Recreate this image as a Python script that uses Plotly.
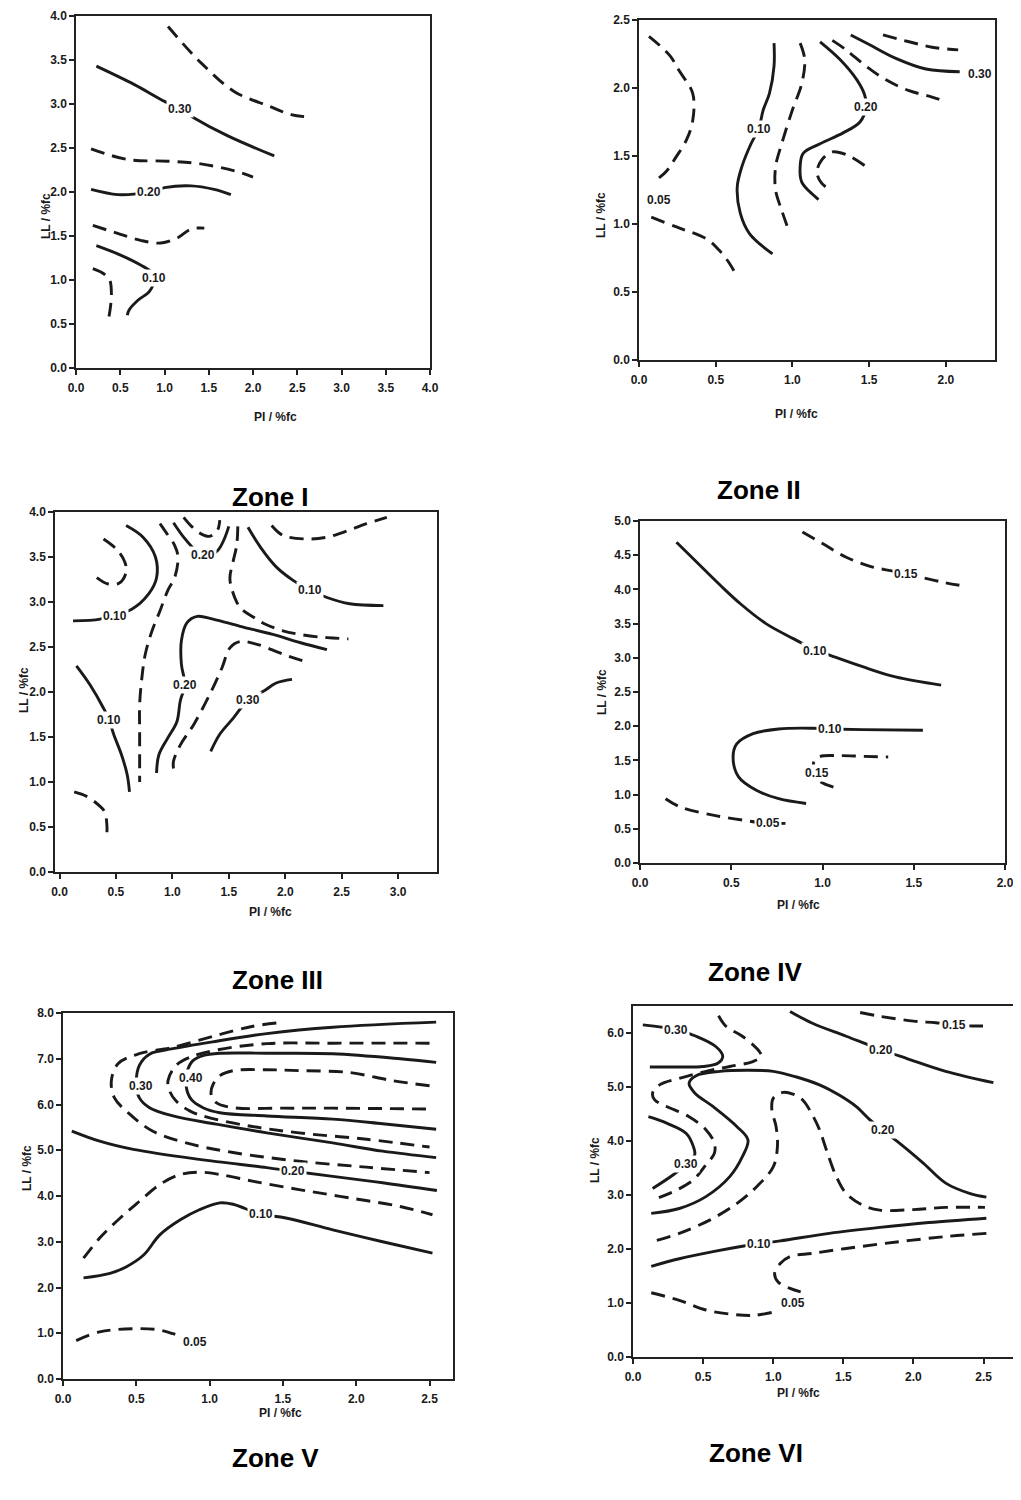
import plotly.graph_objects as go

W, H = 1021, 1500

# ---------------- DATA (PI / %fc , LL / %fc) ----------------
# Zone I
z1_a_pi = [1.04, 1.41, 1.79, 2.17, 2.43, 2.66]
z1_a_ll = [3.88, 3.47, 3.14, 2.98, 2.88, 2.85]
z1_b_pi = [0.23, 0.66, 1.00, 1.17, 1.32, 1.71, 2.24]
z1_b_ll = [3.43, 3.22, 3.03, 2.95, 2.85, 2.64, 2.41]
z1_c_pi = [0.17, 0.58, 1.04, 1.41, 1.79, 2.00]
z1_c_ll = [2.49, 2.37, 2.35, 2.32, 2.24, 2.17]
z1_d_pi = [0.17, 0.47, 0.70, 0.83, 1.00, 1.30, 1.56, 1.75]
z1_d_ll = [2.03, 1.97, 1.98, 2.00, 2.05, 2.07, 2.03, 1.97]
z1_e_pi = [0.19, 0.47, 0.73, 0.96, 1.15, 1.30, 1.45]
z1_e_ll = [1.62, 1.53, 1.45, 1.42, 1.48, 1.58, 1.59]
z1_f_pi = [0.23, 0.51, 0.73, 0.85, 0.88, 0.83, 0.70, 0.60, 0.58]
z1_f_ll = [1.39, 1.28, 1.17, 1.09, 1.00, 0.87, 0.77, 0.66, 0.60]
z1_g_pi = [0.19, 0.30, 0.38, 0.40, 0.39, 0.36]
z1_g_ll = [1.13, 1.08, 1.00, 0.85, 0.70, 0.51]
z1_lab_txt = ["0.30", "0.20", "0.10"]
z1_lab_pi = [1.17, 0.83, 0.88]
z1_lab_ll = [2.94, 2.00, 1.02]

# Zone II
z2_a_pi = [0.065, 0.20, 0.26, 0.35, 0.35, 0.31, 0.24, 0.18, 0.11]
z2_a_ll = [2.38, 2.24, 2.13, 1.96, 1.76, 1.62, 1.49, 1.39, 1.32]
z2_b_pi = [0.08, 0.24, 0.44, 0.52, 0.59, 0.64]
z2_b_ll = [1.05, 0.98, 0.89, 0.81, 0.71, 0.61]
z2_c_pi = [0.88, 0.88, 0.85, 0.81, 0.78, 0.73, 0.67, 0.64, 0.66, 0.72, 0.87]
z2_c_ll = [2.33, 2.16, 1.96, 1.84, 1.70, 1.59, 1.42, 1.27, 1.08, 0.93, 0.78]
z2_d_pi = [1.05, 1.08, 1.06, 1.00, 0.93, 0.89, 0.89, 0.93, 0.98]
z2_d_ll = [2.33, 2.21, 2.03, 1.84, 1.59, 1.42, 1.25, 1.10, 0.94]
z2_e_pi = [1.18, 1.31, 1.42, 1.47, 1.48, 1.44, 1.33, 1.18, 1.07, 1.05, 1.06, 1.11, 1.17]
z2_e_ll = [2.34, 2.21, 2.06, 1.95, 1.86, 1.75, 1.67, 1.59, 1.52, 1.42, 1.31, 1.24, 1.18]
z2_f_pi = [1.47, 1.35, 1.26, 1.19, 1.16, 1.19, 1.25]
z2_f_ll = [1.43, 1.51, 1.53, 1.47, 1.38, 1.30, 1.25]
z2_g_pi = [1.26, 1.35, 1.48, 1.61, 1.76, 1.89, 2.00]
z2_g_ll = [2.35, 2.28, 2.16, 2.06, 1.98, 1.94, 1.90]
z2_h_pi = [1.38, 1.50, 1.67, 1.87, 2.09]
z2_h_ll = [2.39, 2.32, 2.22, 2.14, 2.12]
z2_i_pi = [1.59, 1.76, 1.91, 2.08]
z2_i_ll = [2.39, 2.34, 2.30, 2.28]
z2_lab_txt = ["0.05", "0.10", "0.20", "0.30"]
z2_lab_pi = [0.13, 0.78, 1.48, 2.22]
z2_lab_ll = [1.18, 1.70, 1.86, 2.10]

# Zone III
z3_a_pi = [0.39, 0.51, 0.58, 0.59, 0.53, 0.43, 0.32]
z3_a_ll = [3.70, 3.58, 3.44, 3.33, 3.21, 3.20, 3.28]
z3_b_pi = [0.59, 0.74, 0.85, 0.86, 0.79, 0.64, 0.49, 0.36, 0.12]
z3_b_ll = [3.85, 3.72, 3.50, 3.27, 3.09, 2.92, 2.86, 2.81, 2.79]
z3_c_pi = [0.15, 0.27, 0.39, 0.44, 0.48, 0.55, 0.60, 0.62]
z3_c_ll = [2.29, 2.08, 1.82, 1.69, 1.53, 1.30, 1.08, 0.89]
z3_d_pi = [0.13, 0.24, 0.35, 0.40, 0.42, 0.42]
z3_d_ll = [0.89, 0.84, 0.74, 0.67, 0.52, 0.43]
z3_e_pi = [0.89, 0.94, 1.02, 1.05, 1.02, 0.96, 0.89, 0.82, 0.76, 0.73, 0.71, 0.71, 0.71, 0.71]
z3_e_ll = [3.87, 3.78, 3.63, 3.50, 3.27, 3.13, 2.90, 2.68, 2.42, 2.16, 1.86, 1.56, 1.27, 1.00]
z3_f_pi = [1.01, 1.10, 1.21, 1.30, 1.40, 1.46, 1.50]
z3_f_ll = [3.88, 3.72, 3.57, 3.51, 3.57, 3.70, 3.84]
z3_g_pi = [1.10, 1.17, 1.25, 1.33, 1.40, 1.42]
z3_g_ll = [3.94, 3.84, 3.76, 3.73, 3.80, 3.91]
z3_h_pi = [1.58, 1.57, 1.54, 1.51, 1.53, 1.60, 1.72, 1.83, 1.98, 2.13, 2.31, 2.42, 2.56]
z3_h_ll = [3.84, 3.63, 3.46, 3.27, 3.13, 2.94, 2.83, 2.75, 2.68, 2.64, 2.61, 2.60, 2.59]
z3_i_pi = [1.67, 1.78, 1.92, 2.07, 2.22, 2.37, 2.57, 2.87]
z3_i_ll = [3.83, 3.61, 3.39, 3.24, 3.13, 3.05, 2.98, 2.96]
z3_j_pi = [1.88, 1.98, 2.19, 2.37, 2.57, 2.72, 2.90]
z3_j_ll = [3.85, 3.74, 3.70, 3.72, 3.80, 3.87, 3.94]
z3_k_pi = [0.86, 0.88, 0.96, 1.04, 1.07, 1.11, 1.08, 1.08, 1.13, 1.22, 1.36, 1.60, 1.89, 2.13, 2.37]
z3_k_ll = [1.10, 1.30, 1.49, 1.67, 1.90, 2.08, 2.31, 2.57, 2.77, 2.84, 2.81, 2.73, 2.64, 2.55, 2.47]
z3_l_pi = [1.01, 1.01, 1.07, 1.19, 1.33, 1.44, 1.51, 1.60, 1.75, 1.98, 2.20]
z3_l_ll = [1.15, 1.23, 1.41, 1.64, 1.97, 2.27, 2.49, 2.56, 2.53, 2.42, 2.33]
z3_m_pi = [1.34, 1.42, 1.54, 1.67, 1.81, 1.92, 2.06]
z3_m_ll = [1.34, 1.53, 1.71, 1.91, 2.01, 2.10, 2.14]
z3_lab_txt = ["0.10", "0.10", "0.20", "0.10", "0.20", "0.30"]
z3_lab_pi = [0.49, 0.44, 1.27, 2.22, 1.11, 1.67]
z3_lab_ll = [2.85, 1.69, 3.52, 3.13, 2.08, 1.91]

# Zone IV
z4_a_pi = [0.20, 0.31, 0.44, 0.55, 0.69, 0.84, 0.89, 0.96, 1.07, 1.22, 1.40, 1.65]
z4_a_ll = [4.69, 4.40, 4.06, 3.79, 3.50, 3.28, 3.21, 3.12, 3.01, 2.87, 2.72, 2.60]
z4_b_pi = [0.89, 1.00, 1.13, 1.27, 1.38, 1.46, 1.55, 1.65, 1.75]
z4_b_ll = [4.84, 4.67, 4.47, 4.33, 4.27, 4.22, 4.17, 4.11, 4.06]
z4_c_pi = [0.91, 0.76, 0.64, 0.54, 0.51, 0.53, 0.62, 0.76, 0.95, 1.04, 1.22, 1.55]
z4_c_ll = [0.87, 0.94, 1.06, 1.26, 1.55, 1.74, 1.89, 1.96, 1.97, 1.96, 1.95, 1.94]
z4_d_pi = [1.06, 0.98, 0.97, 0.95, 0.98, 1.09, 1.22, 1.36]
z4_d_ll = [1.11, 1.21, 1.32, 1.45, 1.55, 1.57, 1.56, 1.55]
z4_e_pi = [0.14, 0.22, 0.40, 0.58, 0.70, 0.81]
z4_e_ll = [0.94, 0.82, 0.70, 0.62, 0.58, 0.58]
z4_lab_txt = ["0.10", "0.15", "0.10", "0.15", "0.05"]
z4_lab_pi = [0.96, 1.46, 1.04, 0.97, 0.70]
z4_lab_ll = [3.10, 4.22, 1.96, 1.32, 0.58]

# Zone V
z5_a_pi = [1.455, 1.295, 1.045, 0.75, 0.52, 0.375, 0.33, 0.35, 0.455, 0.61, 0.84, 1.16, 1.61, 2.07, 2.50]
z5_a_ll = [7.78, 7.71, 7.51, 7.25, 7.11, 6.89, 6.52, 6.15, 5.79, 5.42, 5.16, 4.95, 4.76, 4.63, 4.51]
z5_b_pi = [2.545, 1.84, 1.39, 1.02, 0.75, 0.59, 0.52, 0.50, 0.52, 0.59, 0.75, 1.045, 1.39, 1.84, 2.18, 2.545]
z5_b_ll = [7.80, 7.69, 7.55, 7.37, 7.22, 7.10, 6.85, 6.45, 6.15, 5.93, 5.75, 5.57, 5.38, 5.16, 4.98, 4.84]
z5_c_pi = [2.50, 1.84, 1.39, 1.045, 0.864, 0.77, 0.716, 0.727, 0.77, 0.864, 0.977, 1.27, 1.61, 2.07, 2.50]
z5_c_ll = [7.34, 7.34, 7.33, 7.19, 7.03, 6.85, 6.52, 6.30, 6.08, 5.86, 5.73, 5.53, 5.38, 5.24, 5.07]
z5_d_pi = [2.545, 2.30, 1.84, 1.39, 1.07, 0.955, 0.886, 0.85, 0.84, 0.875, 0.955, 1.07, 1.39, 1.84, 2.18, 2.545]
z5_d_ll = [6.92, 7.00, 7.11, 7.12, 7.12, 7.07, 6.96, 6.75, 6.40, 6.11, 5.93, 5.82, 5.75, 5.68, 5.58, 5.46]
z5_e_pi = [2.50, 2.25, 1.95, 1.61, 1.39, 1.16, 1.07, 1.025, 1.01, 1.045, 1.16, 1.50, 1.84, 2.50]
z5_e_ll = [6.41, 6.52, 6.70, 6.74, 6.76, 6.74, 6.63, 6.45, 6.23, 6.04, 5.93, 5.92, 5.92, 5.90]
z5_f_pi = [0.06, 0.25, 0.48, 0.93, 1.39, 1.57, 1.84, 2.18, 2.55]
z5_f_ll = [5.42, 5.20, 5.02, 4.80, 4.62, 4.54, 4.43, 4.29, 4.12]
z5_g_pi = [0.14, 0.25, 0.39, 0.52, 0.66, 0.80, 0.93, 1.07, 1.30, 1.61, 1.95, 2.30, 2.52]
z5_g_ll = [2.64, 3.08, 3.52, 3.88, 4.25, 4.47, 4.52, 4.47, 4.32, 4.14, 3.96, 3.77, 3.59]
z5_h_pi = [0.14, 0.32, 0.43, 0.55, 0.66, 0.80, 0.93, 1.07, 1.16, 1.35, 1.52, 1.84, 2.18, 2.52]
z5_h_ll = [2.21, 2.31, 2.45, 2.71, 3.15, 3.48, 3.70, 3.85, 3.82, 3.60, 3.52, 3.26, 3.00, 2.75]
z5_i_pi = [0.09, 0.25, 0.48, 0.64, 0.75, 0.81]
z5_i_ll = [0.84, 1.03, 1.10, 1.08, 0.99, 0.92]
z5_lab_txt = ["0.30", "0.40", "0.20", "0.10", "0.05"]
z5_lab_pi = [0.53, 0.875, 1.57, 1.35, 0.90]
z5_lab_ll = [6.41, 6.59, 4.54, 3.60, 0.81]

# Zone VI
z6_a_pi = [0.07, 0.31, 0.45, 0.59, 0.64, 0.605, 0.50, 0.31, 0.12]
z6_a_ll = [6.15, 6.06, 5.94, 5.75, 5.57, 5.44, 5.38, 5.37, 5.37]
z6_b_pi = [0.61, 0.665, 0.78, 0.90, 0.915, 0.855, 0.69, 0.52, 0.33, 0.19, 0.14, 0.155, 0.24, 0.40, 0.52, 0.58, 0.58, 0.52, 0.43, 0.31, 0.155]
z6_b_ll = [6.32, 6.12, 5.94, 5.66, 5.57, 5.47, 5.38, 5.29, 5.16, 5.04, 4.89, 4.76, 4.64, 4.45, 4.21, 3.96, 3.77, 3.56, 3.28, 3.09, 2.92]
z6_c_pi = [1.12, 1.28, 1.52, 1.77, 1.95, 2.23, 2.57]
z6_c_ll = [6.40, 6.18, 5.94, 5.69, 5.53, 5.29, 5.08]
z6_d_pi = [0.13, 0.33, 0.52, 0.69, 0.78, 0.82, 0.74, 0.57, 0.44, 0.40, 0.45, 0.62, 0.81, 1.00, 1.16, 1.33, 1.47, 1.59, 1.69, 1.78, 1.90, 2.07, 2.23, 2.40, 2.52]
z6_d_ll = [2.66, 2.75, 2.97, 3.34, 3.71, 4.02, 4.27, 4.64, 4.89, 5.07, 5.21, 5.29, 5.31, 5.29, 5.19, 5.04, 4.85, 4.64, 4.39, 4.20, 3.96, 3.59, 3.22, 3.03, 2.96]
z6_e_pi = [0.11, 0.24, 0.38, 0.43, 0.44, 0.38, 0.285, 0.14]
z6_e_ll = [4.45, 4.33, 4.14, 3.90, 3.74, 3.57, 3.37, 3.12]
z6_f_pi = [0.17, 0.33, 0.55, 0.74, 0.88, 1.00, 1.03, 1.02, 0.99, 1.00, 1.07, 1.14, 1.21, 1.28, 1.33, 1.38, 1.45, 1.52, 1.64, 1.76, 2.00, 2.23, 2.51]
z6_f_ll = [2.16, 2.29, 2.54, 2.84, 3.15, 3.52, 3.90, 4.27, 4.58, 4.79, 4.90, 4.87, 4.76, 4.48, 4.21, 3.83, 3.34, 3.03, 2.81, 2.72, 2.73, 2.77, 2.77]
z6_g_pi = [0.13, 0.33, 0.57, 0.78, 0.90, 1.05, 1.40, 1.76, 2.11, 2.52]
z6_g_ll = [1.68, 1.82, 1.95, 2.05, 2.10, 2.15, 2.29, 2.40, 2.49, 2.57]
z6_h_pi = [2.52, 2.23, 1.88, 1.52, 1.28, 1.12, 1.05, 1.01, 1.035, 1.12, 1.235]
z6_h_ll = [2.29, 2.23, 2.13, 2.01, 1.92, 1.86, 1.73, 1.55, 1.39, 1.27, 1.18]
z6_i_pi = [0.13, 0.33, 0.52, 0.71, 0.86, 1.00]
z6_i_ll = [1.19, 1.05, 0.87, 0.79, 0.77, 0.83]
z6_j_pi = [1.62, 1.76, 2.00, 2.16, 2.29, 2.42, 2.52]
z6_j_ll = [6.38, 6.31, 6.22, 6.19, 6.15, 6.13, 6.13]
z6_lab_txt = ["0.30", "0.20", "0.20", "0.30", "0.10", "0.05", "0.15"]
z6_lab_pi = [0.31, 1.77, 1.78, 0.38, 0.90, 1.14, 2.29]
z6_lab_ll = [6.06, 5.69, 4.20, 3.57, 2.10, 1.00, 6.15]

# Tick values
z1_xticks = [0.0, 0.5, 1.0, 1.5, 2.0, 2.5, 3.0, 3.5, 4.0]
z1_yticks = [0.0, 0.5, 1.0, 1.5, 2.0, 2.5, 3.0, 3.5, 4.0]
z2_xticks = [0.0, 0.5, 1.0, 1.5, 2.0]
z2_yticks = [0.0, 0.5, 1.0, 1.5, 2.0, 2.5]
z3_xticks = [0.0, 0.5, 1.0, 1.5, 2.0, 2.5, 3.0]
z3_yticks = [0.0, 0.5, 1.0, 1.5, 2.0, 2.5, 3.0, 3.5, 4.0]
z4_xticks = [0.0, 0.5, 1.0, 1.5, 2.0]
z4_yticks = [0.0, 0.5, 1.0, 1.5, 2.0, 2.5, 3.0, 3.5, 4.0, 4.5, 5.0]
z5_xticks = [0.0, 0.5, 1.0, 1.5, 2.0, 2.5]
z5_yticks = [0.0, 1.0, 2.0, 3.0, 4.0, 5.0, 6.0, 7.0, 8.0]
z6_xticks = [0.0, 0.5, 1.0, 1.5, 2.0, 2.5]
z6_yticks = [0.0, 1.0, 2.0, 3.0, 4.0, 5.0, 6.0]

zone_titles = ["Zone I", "Zone II", "Zone III", "Zone IV", "Zone V", "Zone VI"]
x_title = "PI / %fc"
y_title = "LL / %fc"

# ---------------- STRUCTURE ----------------
S, D = "solid", "dash"
zones = [
    dict(curves=[(z1_a_pi, z1_a_ll, D), (z1_b_pi, z1_b_ll, S), (z1_c_pi, z1_c_ll, D),
                 (z1_d_pi, z1_d_ll, S), (z1_e_pi, z1_e_ll, D), (z1_f_pi, z1_f_ll, S),
                 (z1_g_pi, z1_g_ll, D)],
         labels=(z1_lab_txt, z1_lab_pi, z1_lab_ll), xt=z1_xticks, yt=z1_yticks,
         px=(76, 430), py=(16, 368), xr=[0, 4], yr=[0, 4],
         xtitle=(252, 408), ytitle=(37, 191), ztitle=(230, 480)),
    dict(curves=[(z2_a_pi, z2_a_ll, D), (z2_b_pi, z2_b_ll, D), (z2_c_pi, z2_c_ll, S),
                 (z2_d_pi, z2_d_ll, D), (z2_e_pi, z2_e_ll, S), (z2_f_pi, z2_f_ll, D),
                 (z2_g_pi, z2_g_ll, D), (z2_h_pi, z2_h_ll, S), (z2_i_pi, z2_i_ll, D)],
         labels=(z2_lab_txt, z2_lab_pi, z2_lab_ll), xt=z2_xticks, yt=z2_yticks,
         px=(639, 995), py=(20, 360), xr=[0, 2.32], yr=[0, 2.5],
         xtitle=(820, 405), ytitle=(601, 190), ztitle=(803, 473)),
    dict(curves=[(z3_a_pi, z3_a_ll, D), (z3_b_pi, z3_b_ll, S), (z3_c_pi, z3_c_ll, S),
                 (z3_d_pi, z3_d_ll, D), (z3_e_pi, z3_e_ll, D), (z3_f_pi, z3_f_ll, S),
                 (z3_g_pi, z3_g_ll, D), (z3_h_pi, z3_h_ll, D), (z3_i_pi, z3_i_ll, S),
                 (z3_j_pi, z3_j_ll, D), (z3_k_pi, z3_k_ll, S), (z3_l_pi, z3_l_ll, D),
                 (z3_m_pi, z3_m_ll, S)],
         labels=(z3_lab_txt, z3_lab_pi, z3_lab_ll), xt=z3_xticks, yt=z3_yticks,
         px=(55, 437), py=(512, 872), xr=[-0.04, 3.345], yr=[0, 4],
         xtitle=(247, 912), ytitle=(15, 690), ztitle=(230, 980)),
    dict(curves=[(z4_a_pi, z4_a_ll, S), (z4_b_pi, z4_b_ll, D), (z4_c_pi, z4_c_ll, S),
                 (z4_d_pi, z4_d_ll, D), (z4_e_pi, z4_e_ll, D)],
         labels=(z4_lab_txt, z4_lab_pi, z4_lab_ll), xt=z4_xticks, yt=z4_yticks,
         px=(640, 1005), py=(521, 863), xr=[0, 2], yr=[0, 5],
         xtitle=(822, 905), ytitle=(602, 692), ztitle=(805, 972)),
    dict(curves=[(z5_a_pi, z5_a_ll, D), (z5_b_pi, z5_b_ll, S), (z5_c_pi, z5_c_ll, D),
                 (z5_d_pi, z5_d_ll, S), (z5_e_pi, z5_e_ll, D), (z5_f_pi, z5_f_ll, S),
                 (z5_g_pi, z5_g_ll, D), (z5_h_pi, z5_h_ll, S), (z5_i_pi, z5_i_ll, D)],
         labels=(z5_lab_txt, z5_lab_pi, z5_lab_ll), xt=z5_xticks, yt=z5_yticks,
         px=(63, 453), py=(1013, 1379), xr=[0, 2.66], yr=[0, 8],
         xtitle=(257, 1422), ytitle=(18, 1193), ztitle=(230, 1475)),
    dict(curves=[(z6_a_pi, z6_a_ll, S), (z6_b_pi, z6_b_ll, D), (z6_c_pi, z6_c_ll, S),
                 (z6_d_pi, z6_d_ll, S), (z6_e_pi, z6_e_ll, S), (z6_f_pi, z6_f_ll, D),
                 (z6_g_pi, z6_g_ll, S), (z6_h_pi, z6_h_ll, D), (z6_i_pi, z6_i_ll, D),
                 (z6_j_pi, z6_j_ll, D)],
         labels=(z6_lab_txt, z6_lab_pi, z6_lab_ll), xt=z6_xticks, yt=z6_yticks,
         px=(633, 1013), py=(1006, 1357), xr=[0, 2.71], yr=[0, 6.5],
         xtitle=(822, 1402), ytitle=(595, 1185), ztitle=(805, 1470)),
]

# The page body has a default 8px margin: place everything 8px up/left.
OFF = 8
FONT = "Liberation Sans, Arial, sans-serif"
INK = "#1a1a1a"
DASH = "14px,8px"
TICK_FS = 12
LAB_FS = 12
AX_FS = 12
ZONE_FS = 26

def fx(p):
    return (p - OFF) / W

def fy(p):
    return 1 - (p - OFF) / H

fig = go.Figure()
layout = dict(width=W, height=H, margin=dict(l=0, r=0, t=0, b=0, autoexpand=False),
              paper_bgcolor="white", plot_bgcolor="white", showlegend=False,
              font=dict(family=FONT, color=INK))
annotations = []

for i, z in enumerate(zones, start=1):
    xa = "x" if i == 1 else f"x{i}"
    ya = "y" if i == 1 else f"y{i}"
    for xs, ys, st in z["curves"]:
        fig.add_trace(go.Scatter(
            x=xs, y=ys, mode="lines", xaxis=xa, yaxis=ya, hoverinfo="skip",
            line=dict(color=INK, width=2.9, shape="spline", smoothing=1.0,
                      dash=DASH if st == D else "solid")))
    txt, lp, ll = z["labels"]
    for t, a, b in zip(txt, lp, ll):
        annotations.append(dict(x=a, y=b, xref=xa, yref=ya, text=t, showarrow=False,
                                bgcolor="white", borderpad=1,
                                font=dict(size=LAB_FS, family=FONT, color=INK, weight="bold")))
    axis_common = dict(showline=True, linecolor="#222", linewidth=1.5, mirror=True,
                       ticks="outside", ticklen=5, tickwidth=1.5, tickcolor="#222",
                       showgrid=False, zeroline=False, fixedrange=True, automargin=False,
                       ticklabeloverflow="allow",
                       tickfont=dict(size=TICK_FS, family=FONT, color=INK, weight="bold"))
    l, r = z["px"]
    t_, b_ = z["py"]
    layout["xaxis" if i == 1 else f"xaxis{i}"] = dict(
        axis_common, domain=[fx(l), fx(r)], range=z["xr"], anchor=ya,
        tickvals=z["xt"], ticktext=[f"{v:.1f}" for v in z["xt"]], ticklabelstandoff=3)
    layout["yaxis" if i == 1 else f"yaxis{i}"] = dict(
        axis_common, domain=[fy(b_), fy(t_)], range=z["yr"], anchor=xa,
        tickvals=z["yt"], ticktext=[f"{v:.1f}" for v in z["yt"]])
    annotations.append(dict(x=fx(z["xtitle"][0]), y=fy(z["xtitle"][1]), xref="paper",
                            yref="paper", text=x_title, showarrow=False,
                            font=dict(size=AX_FS, family=FONT, color=INK, weight="bold")))
    annotations.append(dict(x=fx(z["ytitle"][0]), y=fy(z["ytitle"][1]), xref="paper",
                            yref="paper", text=y_title, showarrow=False, textangle=-90,
                            font=dict(size=AX_FS, family=FONT, color=INK, weight="bold")))
    annotations.append(dict(x=fx(z["ztitle"][0]), y=fy(z["ztitle"][1]), xref="paper",
                            yref="paper", text=zone_titles[i - 1], showarrow=False,
                            font=dict(size=ZONE_FS, family=FONT, color="black", weight="bold")))

layout["annotations"] = annotations
fig.update_layout(**layout)
fig.write_html("out.html")
